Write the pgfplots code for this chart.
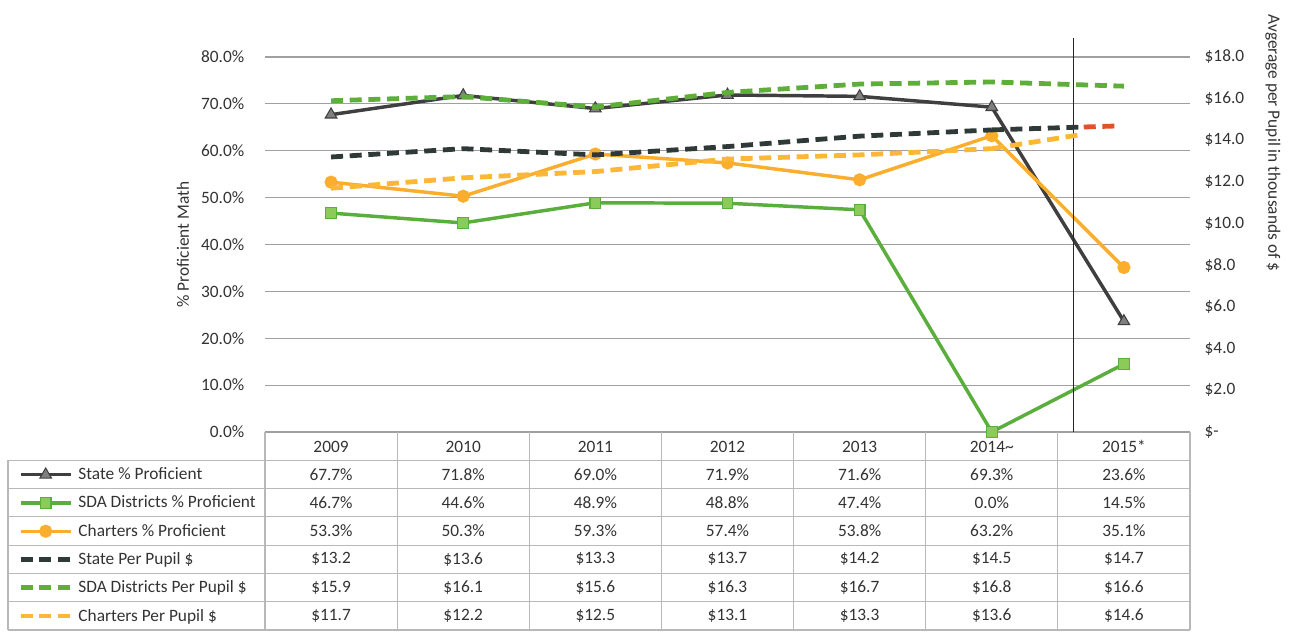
\documentclass[border=0pt]{standalone}
\usepackage{pgfplots}
\pgfplotsset{compat=1.18}
\usepackage{fontspec}
\setmainfont{Carlito}
\definecolor{txt}{HTML}{333333}
\definecolor{stateC}{HTML}{3F3F3F}
\definecolor{stateM}{HTML}{7F7F7F}
\definecolor{sdaC}{HTML}{5AAE3C}
\definecolor{sdaM}{HTML}{8CCB5A}
\definecolor{charC}{HTML}{FBAE2E}
\definecolor{statePP}{HTML}{2F3A38}
\definecolor{sdaPP}{HTML}{5EAE3A}
\definecolor{charPP}{HTML}{FDB737}
\definecolor{redC}{HTML}{E0522B}
\definecolor{gridC}{HTML}{A0A0A0}
\definecolor{tabC}{HTML}{B8B8B8}
\newcommand\tfont{\fontsize{13}{15}\selectfont}
\pgfplotsset{
  base/.style={scale only axis, width=693.75pt, height=281.25pt,
    at={(0,0)}, anchor=south west, xmin=-0.5, xmax=6.5, xtick=\empty,
    major tick length=0pt,
    tick label style={font=\tfont, text=txt},
    label style={font=\tfont, text=txt}},
  stPct/.style={color=stateC, line width=2.6pt, mark=triangle*, mark size=5pt,
    mark options={fill=stateM, draw=stateC, line width=0.8pt}},
  sdaPct/.style={color=sdaC, line width=2.6pt, mark=square*, mark size=4pt,
    mark options={fill=sdaM, draw=sdaC, line width=0.8pt}},
  chPct/.style={color=charC, line width=2.6pt, mark=*, mark size=3.6pt,
    mark options={fill=charC, draw=charC}},
  ppline/.style={line width=3.6pt, dash pattern=on 9pt off 5pt, mark=none},
}
\begin{document}
\begin{tikzpicture}
\begin{axis}[base, ymin=0, ymax=80,
  ytick={0,10,...,80},
  yticklabels={0.0\%,10.0\%,20.0\%,30.0\%,40.0\%,50.0\%,60.0\%,70.0\%,80.0\%},
  yticklabel style={xshift=-12pt},
  ymajorgrids, grid style={gridC, line width=0.8pt},
  axis line style={draw=none},
  ylabel={\% Proficient Math},
  ylabel style={at={(axis description cs:-0.0886,0.5)}, anchor=center},
  clip=false,
  legend cell align=left,
  legend image code/.code={\draw[mark repeat=2,mark phase=2,#1] plot coordinates {(0pt,0pt) (18.75pt,0pt) (37.5pt,0pt)};},
  legend style={at={(axis description cs:-0.2778,-0.0755)}, anchor=north west,
    draw=none, fill=none, inner xsep=7.5pt, inner ysep=0pt, row sep=0pt,
    column sep=2pt, font=\tfont,
    nodes={inner xsep=2pt, inner ysep=0pt, minimum height=21.2pt, text=txt}},
]
\addplot[stPct] coordinates {(0,67.7)(1,71.8)(2,69.0)(3,71.9)(4,71.6)(5,69.3)(6,23.6)};
\addlegendentry{State \% Proficient}
\addplot[sdaPct] coordinates {(0,46.7)(1,44.6)(2,48.9)(3,48.8)(4,47.4)(5,0.0)(6,14.5)};
\addlegendentry{SDA Districts \% Proficient}
\addplot[chPct] coordinates {(0,53.3)(1,50.3)(2,59.3)(3,57.4)(4,53.8)(5,63.2)(6,35.1)};
\addlegendentry{Charters \% Proficient}
\addlegendimage{ppline, statePP}
\addlegendentry{State Per Pupil \$}
\addlegendimage{ppline, sdaPP}
\addlegendentry{SDA Districts Per Pupil \$}
\addlegendimage{ppline, charPP}
\addlegendentry{Charters Per Pupil \$}
\draw[black!85, line width=1pt] (axis cs:5.62,0) -- (axis cs:5.62,84);
\end{axis}
\begin{axis}[base, ymin=0, ymax=18,
  axis y line*=right, axis x line=none,
  y axis line style={draw=none},
  ytick={0,2,...,18},
  yticklabels={\$-,\$2.0,\$4.0,\$6.0,\$8.0,\$10.0,\$12.0,\$14.0,\$16.0,\$18.0},
  yticklabel style={xshift=7.5pt},
  ylabel={Avgerage per Pupil in thousands of \$},
  ylabel style={at={(axis description cs:1.0897,0.7707)}, anchor=center, rotate=180},
]
\addplot[ppline, charPP] coordinates {(0,11.7)(1,12.2)(2,12.5)(3,13.1)(4,13.3)(5,13.6)};
\addplot[ppline, charPP, dash pattern=on 9pt off 5pt on 9pt off 5pt on 9pt off 5pt on 9pt off 5pt on 9pt off 60pt] coordinates {(5,13.6)(6,14.6)};
\addplot[ppline, statePP] coordinates {(0,13.2)(1,13.6)(2,13.3)(3,13.7)(4,14.2)(5,14.5)};
\addplot[ppline, statePP, dash pattern=on 9pt off 5pt on 9pt off 5pt on 9pt off 5pt on 9pt off 5pt on 9pt off 60pt] coordinates {(5,14.5)(6,14.7)};
\addplot[ppline, redC, dash pattern=on 0pt off 69pt on 9pt off 5pt on 9pt off 40pt] coordinates {(5,14.5)(6,14.7)};
\addplot[ppline, sdaPP] coordinates {(0,15.9)(1,16.1)(2,15.6)(3,16.3)(4,16.7)(5,16.8)(6,16.6)};
\end{axis}
\begin{scope}[x=0.75pt,y=-0.75pt,shift={(-265,-432)}]
  \foreach \y in {460.3,488.6,516.9,545.1,573.4,601.7,630}
    \draw[tabC, line width=0.8pt] (8,\y) -- (1190,\y);
  \draw[tabC, line width=0.8pt] (8,460.3) -- (8,630);
  \foreach \x in {265,397.1,529.3,661.4,793.6,925.7,1057.9,1190}
    \draw[tabC, line width=0.8pt] (\x,432) -- (\x,630);
  \foreach \v [count=\i from 0] in {2009,2010,2011,2012,2013,2014\textasciitilde,2015*}
    \node[font=\tfont, text=txt] at ({331.07+132.14*\i},446.5) {\v};
  \foreach \v [count=\i from 0] in {67.7,71.8,69.0,71.9,71.6,69.3,23.6}
    \node[font=\tfont, text=txt] at ({331.07+132.14*\i},474.4) {\v\%};
  \foreach \v [count=\i from 0] in {46.7,44.6,48.9,48.8,47.4,0.0,14.5}
    \node[font=\tfont, text=txt] at ({331.07+132.14*\i},502.7) {\v\%};
  \foreach \v [count=\i from 0] in {53.3,50.3,59.3,57.4,53.8,63.2,35.1}
    \node[font=\tfont, text=txt] at ({331.07+132.14*\i},531.0) {\v\%};
  \foreach \v [count=\i from 0] in {13.2,13.6,13.3,13.7,14.2,14.5,14.7}
    \node[font=\tfont, text=txt] at ({331.07+132.14*\i},559.3) {\$\v};
  \foreach \v [count=\i from 0] in {15.9,16.1,15.6,16.3,16.7,16.8,16.6}
    \node[font=\tfont, text=txt] at ({331.07+132.14*\i},587.6) {\$\v};
  \foreach \v [count=\i from 0] in {11.7,12.2,12.5,13.1,13.3,13.6,14.6}
    \node[font=\tfont, text=txt] at ({331.07+132.14*\i},615.9) {\$\v};
  \pgfresetboundingbox
  \path[use as bounding box] (0,0) rectangle (1293,634);
\end{scope}
\end{tikzpicture}
\end{document}
